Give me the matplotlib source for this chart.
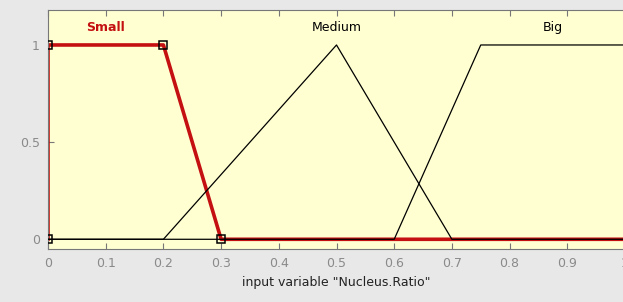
import matplotlib.pyplot as plt
import numpy as np

# membership functions of input "Nucleus.Ratio"
small_x = [0, 0, 0.2, 0.3, 1]
small_y = [0, 1, 1, 0, 0]
medium_x = [0, 0.2, 0.5, 0.7, 1]
medium_y = [0, 0, 1, 0, 0]
big_x = [0, 0.6, 0.75, 1]
big_y = [0, 0, 1, 1]

# selected mf parameter points (squares)
pts_x = [0, 0, 0.2, 0.3]
pts_y = [0, 1, 1, 0]

names = ["Small", "Medium", "Big"]
name_x = [0.1, 0.5, 0.875]

xticks = np.round(np.arange(0, 1.01, 0.1), 1)
yticks = [0, 0.5, 1]

fig = plt.figure(figsize=(6.23, 3.02), dpi=100)
fig.patch.set_facecolor('#e8e8e8')
ax = fig.add_axes([48/623, 53/302, 577/623, 239/302])
ax.set_facecolor('#ffffd2')

ax.plot(small_x, small_y, color='#c41010', lw=2.6, zorder=2)
ax.plot(medium_x, medium_y, color='black', lw=0.9, zorder=3)
ax.plot(big_x, big_y, color='black', lw=0.9, zorder=3)
ax.plot(pts_x, pts_y, ls='none', marker='s', ms=6, mfc='none', mec='black',
        mew=1.1, zorder=4)

for i, nm in enumerate(names):
    if nm == "Small":
        ax.text(name_x[i], 1.09, nm, color='#c41010', ha='center', va='center',
                fontsize=9, fontweight='bold')
    else:
        ax.text(name_x[i], 1.09, nm, color='black', ha='center', va='center',
                fontsize=9)

ax.set_xlim(0, 1)
ax.set_ylim(-0.05, 1.18)
ax.set_xticks(xticks)
ax.set_xticklabels([f"{t:g}" for t in xticks])
ax.set_yticks(yticks)
ax.set_yticklabels([f"{t:g}" for t in yticks])
ax.tick_params(direction='in', top=True, right=False, length=4, width=0.8,
               colors='#777777', labelcolor='#8a8a8a', labelsize=9, pad=6)
for s in ['left', 'bottom', 'top']:
    ax.spines[s].set_color('#777777')
    ax.spines[s].set_linewidth(0.8)
ax.spines['right'].set_visible(False)

ax.set_xlabel('input variable "Nucleus.Ratio"', fontsize=9, color='#222222',
              labelpad=4)

fig.savefig('out.png', dpi=100, facecolor=fig.get_facecolor())
